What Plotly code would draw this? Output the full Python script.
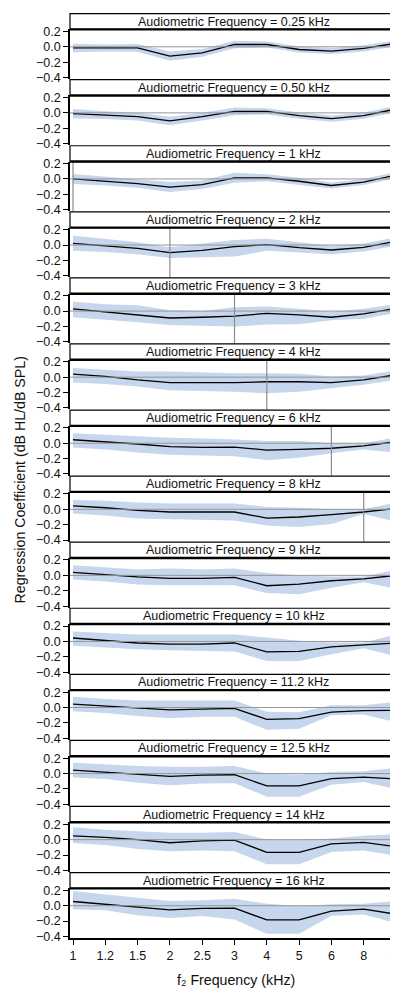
import plotly.graph_objects as go

# ---------------- data ----------------
f2_labels = ["1", "1.2", "1.5", "2", "2.5", "3", "4", "5", "6", "8", "10"]
f2_values = [1, 1.2, 1.5, 2, 2.5, 3, 4, 5, 6, 8, 10]
audio_labels = ["0.25", "0.50", "1", "2", "3", "4", "6", "8", "9", "10", "11.2", "12.5", "14", "16"]
audio_values = [0.25, 0.5, 1, 2, 3, 4, 6, 8, 9, 10, 11.2, 12.5, 14, 16]

coef_0_25 = [-0.015, -0.015, -0.015, -0.12, -0.08, 0.03, 0.03, -0.035, -0.055, -0.02, 0.045]
lo_0_25 = [-0.07, -0.06, -0.065, -0.18, -0.13, -0.02, -0.01, -0.075, -0.095, -0.06, 0.005]
hi_0_25 = [0.04, 0.03, 0.035, -0.06, -0.03, 0.08, 0.07, 0.005, -0.015, 0.02, 0.085]

coef_0_50 = [-0.01, -0.03, -0.05, -0.105, -0.05, 0.02, 0.02, -0.035, -0.075, -0.035, 0.05]
lo_0_50 = [-0.07, -0.08, -0.1, -0.16, -0.1, -0.03, -0.02, -0.075, -0.115, -0.075, 0.01]
hi_0_50 = [0.05, 0.02, 0.0, -0.05, 0.0, 0.07, 0.06, 0.005, -0.035, 0.005, 0.09]

coef_1 = [0.0, -0.03, -0.06, -0.105, -0.075, 0.015, 0.015, -0.03, -0.085, -0.04, 0.05]
lo_1 = [-0.065, -0.085, -0.115, -0.17, -0.13, -0.05, -0.03, -0.075, -0.125, -0.08, 0.01]
hi_1 = [0.065, 0.03, 0.0, -0.04, -0.02, 0.08, 0.06, 0.015, -0.045, 0.0, 0.09]

coef_2 = [0.02, -0.01, -0.045, -0.1, -0.07, -0.02, 0.005, -0.035, -0.065, -0.03, 0.05]
lo_2 = [-0.075, -0.09, -0.12, -0.17, -0.16, -0.15, -0.075, -0.1, -0.12, -0.085, -0.01]
hi_2 = [0.125, 0.08, 0.035, -0.03, 0.02, 0.065, 0.08, 0.035, -0.01, 0.02, 0.1]

coef_3 = [0.03, -0.01, -0.05, -0.09, -0.08, -0.065, -0.03, -0.05, -0.08, -0.035, 0.035]
lo_3 = [-0.08, -0.11, -0.145, -0.18, -0.19, -0.2, -0.175, -0.17, -0.12, -0.1, -0.025]
hi_3 = [0.12, 0.09, 0.075, 0.01, 0.0, 0.05, 0.06, 0.03, -0.01, 0.03, 0.09]

coef_4 = [0.04, 0.01, -0.035, -0.07, -0.07, -0.07, -0.06, -0.06, -0.07, -0.035, 0.03]
lo_4 = [-0.07, -0.09, -0.12, -0.17, -0.18, -0.19, -0.21, -0.19, -0.145, -0.1, -0.035]
hi_4 = [0.12, 0.1, 0.075, 0.075, 0.06, 0.05, 0.05, 0.045, 0.01, 0.02, 0.09]

coef_6 = [0.045, 0.02, -0.01, -0.045, -0.055, -0.05, -0.09, -0.08, -0.065, -0.035, 0.02]
lo_6 = [-0.055, -0.08, -0.12, -0.15, -0.16, -0.17, -0.22, -0.19, -0.13, -0.08, -0.12]
hi_6 = [0.13, 0.11, 0.09, 0.07, 0.06, 0.05, 0.03, 0.03, 0.0, 0.0, 0.075]

coef_8 = [0.045, 0.02, -0.015, -0.035, -0.035, -0.035, -0.115, -0.1, -0.07, -0.035, 0.01]
lo_8 = [-0.055, -0.08, -0.12, -0.13, -0.14, -0.145, -0.21, -0.23, -0.19, -0.06, -0.16]
hi_8 = [0.12, 0.11, 0.09, 0.075, 0.075, 0.075, 0.03, 0.02, 0.0, 0.0, 0.09]

coef_9 = [0.04, 0.01, -0.02, -0.04, -0.04, -0.025, -0.135, -0.115, -0.07, -0.045, 0.0]
lo_9 = [-0.055, -0.08, -0.12, -0.13, -0.13, -0.13, -0.23, -0.245, -0.16, -0.09, -0.175]
hi_9 = [0.13, 0.1, 0.075, 0.09, 0.075, 0.09, 0.03, 0.0, -0.015, -0.015, 0.075]

coef_10 = [0.045, 0.01, -0.02, -0.035, -0.035, -0.02, -0.135, -0.13, -0.07, -0.045, -0.02]
lo_10 = [-0.055, -0.08, -0.1, -0.115, -0.12, -0.13, -0.255, -0.255, -0.165, -0.09, -0.19]
hi_10 = [0.13, 0.11, 0.09, 0.09, 0.09, 0.09, 0.05, 0.01, -0.015, -0.015, 0.09]

coef_11_2 = [0.045, 0.02, 0.0, -0.03, -0.02, -0.01, -0.155, -0.145, -0.06, -0.04, -0.035]
lo_11_2 = [-0.05, -0.07, -0.11, -0.14, -0.12, -0.12, -0.29, -0.275, -0.1, -0.09, -0.19]
hi_11_2 = [0.14, 0.11, 0.09, 0.09, 0.09, 0.09, -0.055, -0.06, 0.03, 0.03, 0.075]

coef_12_5 = [0.045, 0.02, -0.01, -0.035, -0.02, -0.015, -0.16, -0.16, -0.065, -0.045, -0.07]
lo_12_5 = [-0.05, -0.07, -0.12, -0.15, -0.13, -0.125, -0.3, -0.3, -0.145, -0.11, -0.2]
hi_12_5 = [0.14, 0.12, 0.1, 0.09, 0.09, 0.1, 0.0, -0.015, 0.02, 0.03, 0.075]

coef_14 = [0.05, 0.03, 0.0, -0.04, -0.015, -0.005, -0.165, -0.165, -0.055, -0.035, -0.09]
lo_14 = [-0.045, -0.07, -0.12, -0.15, -0.14, -0.15, -0.32, -0.32, -0.16, -0.14, -0.21]
hi_14 = [0.16, 0.13, 0.11, 0.09, 0.09, 0.1, 0.0, 0.0, 0.015, 0.05, 0.07]

coef_16 = [0.055, 0.02, -0.02, -0.055, -0.035, -0.03, -0.185, -0.185, -0.07, -0.045, -0.11]
lo_16 = [-0.045, -0.06, -0.125, -0.16, -0.135, -0.18, -0.365, -0.365, -0.13, -0.115, -0.225]
hi_16 = [0.19, 0.15, 0.105, 0.06, 0.07, 0.09, 0.025, -0.005, 0.02, 0.025, 0.06]

coef_all = [coef_0_25, coef_0_50, coef_1, coef_2, coef_3, coef_4, coef_6, coef_8,
            coef_9, coef_10, coef_11_2, coef_12_5, coef_14, coef_16]
lo_all = [lo_0_25, lo_0_50, lo_1, lo_2, lo_3, lo_4, lo_6, lo_8,
          lo_9, lo_10, lo_11_2, lo_12_5, lo_14, lo_16]
hi_all = [hi_0_25, hi_0_50, hi_1, hi_2, hi_3, hi_4, hi_6, hi_8,
          hi_9, hi_10, hi_11_2, hi_12_5, hi_14, hi_16]

ytick_vals = [-0.4, -0.2, 0.0, 0.2]

# ---------------- layout geometry (window pixels, page body has 8px margin) ----------------
OFF = 8
W, Hfig = 398, 992
top_w, bot_w = 8, 938          # window y of first title top / bottom x-axis
left_w, right_w = 70, 397      # window x of plot left / right edges
top_px, bot_px = top_w - OFF, bot_w - OFF
left_px, right_px = left_w - OFF, right_w - OFF
n = len(audio_labels)
panel_h = (bot_px - top_px) / n
title_h = 16.5
paper_h = bot_px - top_px
paper_w = right_px - left_px


def py(px_fig):
    return (bot_px - px_fig) / paper_h


FONT = "Liberation Sans, Arial, Helvetica, sans-serif"
BAND = "rgb(198,214,236)"
x_idx = list(range(len(f2_labels)))
yr = [-0.4 - 1.5 * 0.6 / 46, 0.2 + 2 * 0.6 / 46]
xr = [-3 / 32.3, 10 + 1 / 32.3]

fig = go.Figure()
shapes = []
annotations = []
layout_axes = {}

for k in range(n):
    s = "" if k == 0 else str(k + 1)
    xa, ya = "x" + s, "y" + s
    fig.add_trace(go.Scatter(x=x_idx, y=hi_all[k], xaxis=xa, yaxis=ya, mode="lines",
                             line=dict(width=0, color=BAND), hoverinfo="skip", showlegend=False))
    fig.add_trace(go.Scatter(x=x_idx, y=lo_all[k], xaxis=xa, yaxis=ya, mode="lines",
                             line=dict(width=0, color=BAND), fill="tonexty", fillcolor=BAND,
                             hoverinfo="skip", showlegend=False))
    shapes.append(dict(type="line", xref=xa + " domain", yref=ya, x0=0, x1=1, y0=0, y1=0,
                       line=dict(color="rgb(150,150,150)", width=1), layer="above"))
    if audio_values[k] in f2_values:
        xi = f2_values.index(audio_values[k])
        shapes.append(dict(type="line", xref=xa, yref=ya + " domain", x0=xi, x1=xi, y0=0, y1=1,
                           line=dict(color="rgb(140,140,140)", width=1.2), layer="above"))
    fig.add_trace(go.Scatter(x=x_idx, y=coef_all[k], xaxis=xa, yaxis=ya, mode="lines",
                             line=dict(color="black", width=1.3), showlegend=False))

    p_top = top_px + panel_h * k
    plot_top = p_top + title_h
    plot_bot = top_px + panel_h * (k + 1)
    last = (k == n - 1)

    layout_axes["xaxis" + s] = dict(
        domain=[0, 1], anchor=ya, range=xr, showgrid=False, zeroline=False,
        tickvals=x_idx, ticktext=f2_labels,
        showticklabels=last, showline=last, linecolor="black", linewidth=1.5,
        ticks="outside" if last else "", ticklen=5, tickwidth=1, tickcolor="black",
        tickfont=dict(family=FONT, size=12.5, color="#111"),
        **({} if k == 0 else {"matches": "x"}))
    layout_axes["yaxis" + s] = dict(
        domain=[py(plot_bot), py(plot_top)], anchor=xa, range=yr, showgrid=False,
        zeroline=False, tickvals=ytick_vals, tickformat=".1f", ticks="outside",
        ticklen=5, tickwidth=1, tickcolor="black", showline=True, linecolor="black",
        linewidth=1.5, tickfont=dict(family=FONT, size=12.5, color="#111"))

    shapes.append(dict(type="rect", xref="paper", yref="paper", x0=0, x1=1,
                       y0=py(plot_top), y1=py(p_top + 0.6), line=dict(color="black", width=1.2),
                       fillcolor="white", layer="above"))
    shapes.append(dict(type="line", xref="paper", yref="paper", x0=0, x1=1,
                       y0=py(plot_top), y1=py(plot_top), line=dict(color="black", width=2.4),
                       layer="above"))
    annotations.append(dict(xref="paper", yref="paper", x=0.5, y=py(p_top + title_h / 2 + 0.5),
                            text=f"Audiometric Frequency = {audio_labels[k]} kHz",
                            showarrow=False, xanchor="center", yanchor="middle",
                            font=dict(family=FONT, size=12.5, color="#111")))

annotations.append(dict(xref="paper", yref="paper", x=(20 - left_w) / paper_w,
                        y=py(478 - OFF), text="Regression Coefficient (dB HL/dB SPL)",
                        textangle=-90, showarrow=False, xanchor="center", yanchor="middle",
                        font=dict(family=FONT, size=14.2, color="#111")))
annotations.append(dict(xref="paper", yref="paper", x=(236 - left_w) / paper_w,
                        y=py(980 - OFF),
                        text="f\u2082 Frequency (kHz)", showarrow=False,
                        xanchor="center", yanchor="middle",
                        font=dict(family=FONT, size=14.2, color="#111")))

fig.update_layout(
    width=W, height=Hfig,
    margin=dict(l=left_px, r=W - right_px, t=top_px, b=Hfig - bot_px, pad=0),
    paper_bgcolor="white", plot_bgcolor="white",
    showlegend=False, shapes=shapes, annotations=annotations,
    font=dict(family=FONT, size=12.5, color="#111"),
    **layout_axes)

fig.write_html("out.html", config={"displayModeBar": False})
